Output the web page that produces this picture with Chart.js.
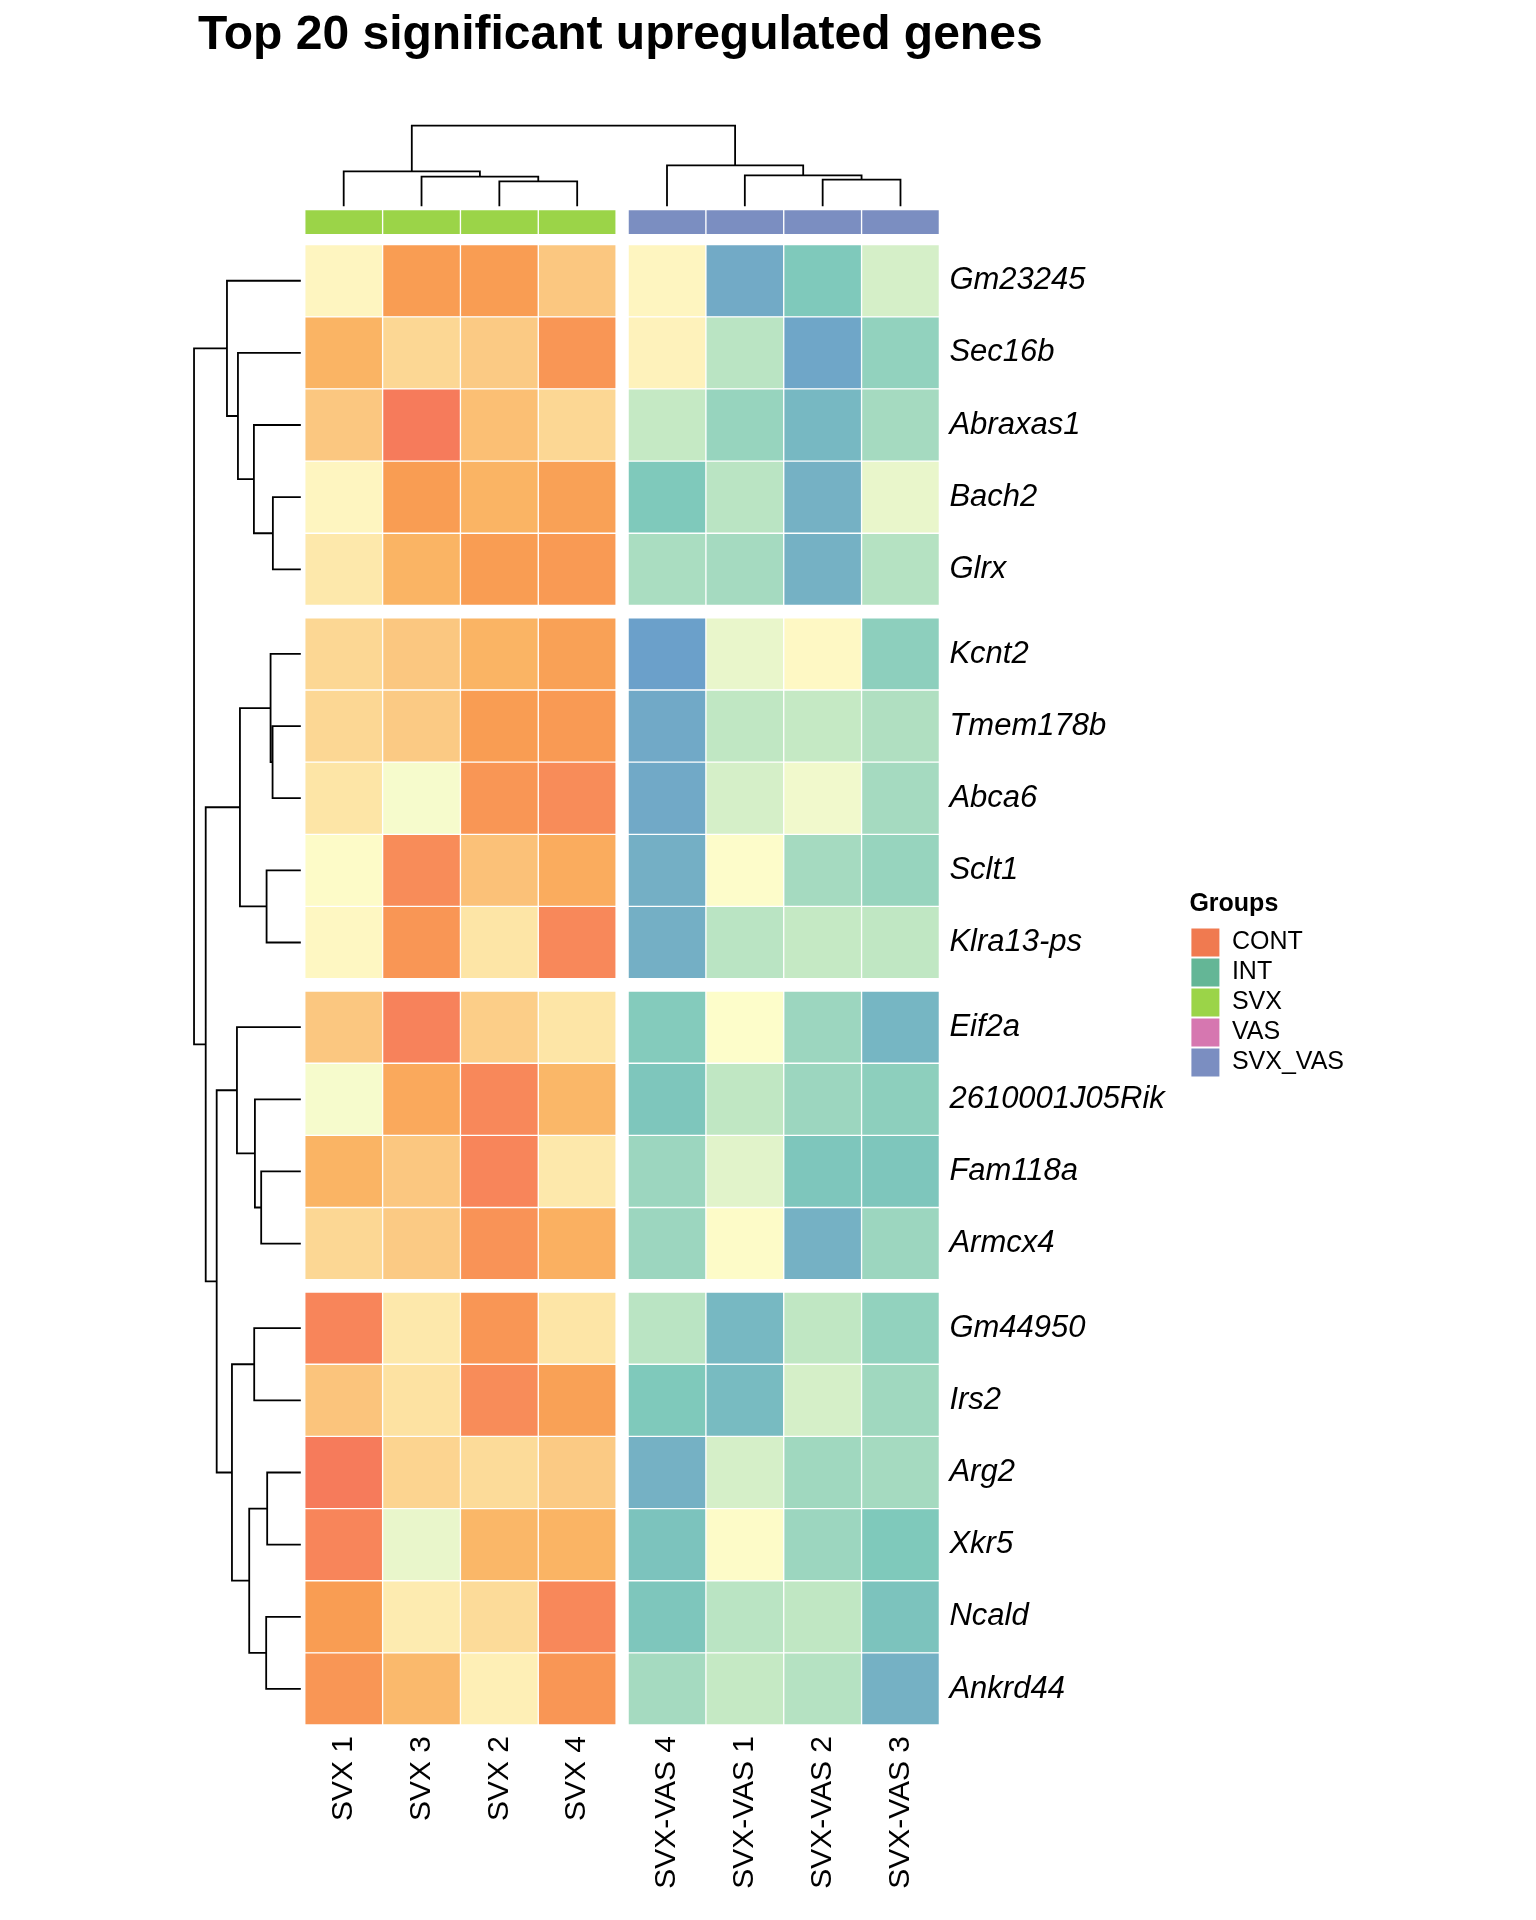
<!DOCTYPE html>
<html>
<head>
<meta charset="utf-8">
<title>Top 20 significant upregulated genes</title>
<script src="https://cdn.jsdelivr.net/npm/chart.js@4.4.1/dist/chart.umd.min.js"></script>
<style>
  html, body { margin: 0; padding: 0; background: #ffffff; }
  #wrap { width: 1536px; height: 1920px; }
</style>
</head>
<body>
<div id="wrap"><canvas id="heatmap"></canvas></div>
<script>
// Genes (rows) and samples (columns), in clustered display order
const genes = ['Gm23245', 'Sec16b', 'Abraxas1', 'Bach2', 'Glrx',
    'Kcnt2', 'Tmem178b', 'Abca6', 'Sclt1', 'Klra13-ps',
    'Eif2a', '2610001J05Rik', 'Fam118a', 'Armcx4',
    'Gm44950', 'Irs2', 'Arg2', 'Xkr5', 'Ncald', 'Ankrd44'];
const samples = ['SVX 1', 'SVX 3', 'SVX 2', 'SVX 4', 'SVX-VAS 4', 'SVX-VAS 1', 'SVX-VAS 2', 'SVX-VAS 3'];
const sampleGroups = ['SVX', 'SVX', 'SVX', 'SVX', 'SVX_VAS', 'SVX_VAS', 'SVX_VAS', 'SVX_VAS'];

// Row-scaled expression (z-score), one array per sample, gene order as above
const svx1 = [0.15, 1.2, 0.85, 0.15, 0.35, 0.6, 0.6, 0.4, 0.05, 0.12, 0.85, -0.03, 1.2, 0.6, 1.85, 0.9, 2.0, 1.85, 1.5, 1.6];
const svx3 = [1.5, 0.6, 2.0, 1.5, 1.2, 0.85, 0.8, -0.03, 1.75, 1.6, 1.9, 1.35, 0.85, 0.8, 0.35, 0.45, 0.65, -0.08, 0.3, 1.1];
const svx2 = [1.5, 0.8, 1.0, 1.2, 1.5, 1.2, 1.5, 1.6, 0.95, 0.4, 0.75, 1.8, 1.85, 1.65, 1.6, 1.75, 0.55, 1.15, 0.55, 0.25];
const svx4 = [0.85, 1.6, 0.6, 1.45, 1.55, 1.45, 1.55, 1.75, 1.3, 1.8, 0.4, 1.15, 0.35, 1.25, 0.4, 1.45, 0.8, 1.2, 1.8, 1.6];
const svxVas4 = [0.15, 0.2, -0.3, -1.0, -0.55, -1.95, -1.65, -1.65, -1.5, -1.5, -0.95, -1.05, -0.7, -0.7, -0.4, -1.0, -1.45, -1.1, -1.05, -0.6];
const svxVas1 = [-1.6, -0.4, -0.75, -0.4, -0.6, -0.08, -0.35, -0.2, 0.03, -0.4, 0.02, -0.35, -0.12, 0.05, -1.3, -1.25, -0.2, 0.05, -0.4, -0.3];
const svxVas2 = [-1.0, -1.75, -1.3, -1.45, -1.45, 0.1, -0.3, -0.05, -0.6, -0.3, -0.7, -0.7, -1.05, -1.45, -0.35, -0.2, -0.65, -0.7, -0.35, -0.45];
const svxVas3 = [-0.2, -0.8, -0.6, -0.08, -0.45, -0.85, -0.5, -0.6, -0.75, -0.35, -1.35, -0.85, -1.05, -0.7, -0.8, -0.65, -0.6, -1.0, -1.1, -1.45];
const columns = [svx1, svx3, svx2, svx4, svxVas4, svxVas1, svxVas2, svxVas3];

// Cluster cuts (gap after these row / column counts)
const rowBreaks = [5, 10, 14];
const colBreaks = [4];

// Dendrograms, hclust style: negative = leaf (display position), positive = earlier merge
const rowMerge = [[-4, -5], [-3, 1], [-2, 2], [-1, 3],
    [-7, -8], [-6, 5], [-9, -10], [6, 7],
    [-13, -14], [-12, 9], [-11, 10],
    [-15, -16], [-17, -18], [-19, -20], [13, 14], [12, 15],
    [11, 16], [8, 17], [4, 18]];
const rowHeight = [2.80, 4.70, 6.30, 7.40, 2.83, 3.03, 3.43, 6.10, 3.97, 4.60, 6.40,
    4.67, 3.37, 3.47, 5.17, 6.90, 8.43, 9.53, 10.70];
const colMerge = [[-3, -4], [-2, 1], [-1, 2], [-7, -8], [-6, 4], [-5, 5], [3, 6]];
const colHeight = [2.50, 2.97, 3.50, 2.67, 3.10, 4.10, 8.07];

// Annotation legend
const groupNames = ['CONT', 'INT', 'SVX', 'VAS', 'SVX_VAS'];
const groupColors = ['#f07a50', '#64b696', '#9bd448', '#d677b0', '#7b8ec1'];

// Colour ramp of the heatmap
const rampStops = [-2.0, -1.6, -1.3, -1.0, -0.6, -0.3, -0.1, 0.0, 0.15, 0.4, 0.6, 0.9, 1.2, 1.5, 1.8, 2.0];
const rampColors = ['#6a9ecb', '#72aac6', '#77b8c2', '#7fc9bb', '#a5dac0', '#c5e9c4', '#e4f4cb', '#fdfecc',
    '#fef5c0', '#fde5a6', '#fcd794', '#fbc47c', '#fab464', '#f99d53', '#f8885a', '#f67b5b'];

// Layout in cell units
const COL_GAP = 0.154;
const ROW_GAP = 0.173;
const X_MIN = -1.372, X_MAX = 8 + COL_GAP;
const Y_MIN = -1.872, Y_MAX = 20 + 3 * ROW_GAP;
const ANN_TOP = -0.485, ANN_BOTTOM = -0.139;
const COL_TREE_BASE = -0.531, COL_TREE_DEPTH = 1.119;
const ROW_TREE_BASE = -0.051, ROW_TREE_DEPTH = 1.372;

const FONT = '"Liberation Sans", Arial, Helvetica, sans-serif';

function colCenter(c) {
    return c + 0.5 + COL_GAP * colBreaks.filter(b => c >= b).length;
}

function rowTop(r) {
    return r + ROW_GAP * rowBreaks.filter(b => r >= b).length;
}

function hexToRgb(h) {
    const n = parseInt(h.slice(1), 16);
    return [(n >> 16) & 255, (n >> 8) & 255, n & 255];
}

function heatColor(v) {
    if (v <= rampStops[0]) return rampColors[0];
    for (let i = 1; i < rampStops.length; i++) {
        if (v <= rampStops[i]) {
            const t = (v - rampStops[i - 1]) / (rampStops[i] - rampStops[i - 1]);
            const a = hexToRgb(rampColors[i - 1]), b = hexToRgb(rampColors[i]);
            const m = a.map((x, k) => Math.round(x + (b[k] - x) * t));
            return `rgb(${m[0]}, ${m[1]}, ${m[2]})`;
        }
    }
    return rampColors[rampColors.length - 1];
}

// Walks the merge table and returns the elbow segments (null = pen up)
function dendroSegments(merges, heights, leafPos) {
    const pos = [], hgt = [], segs = [];
    const node = k => k < 0 ? {p: leafPos[-k - 1], h: 0} : {p: pos[k - 1], h: hgt[k - 1]};
    merges.forEach(([a, b], i) => {
        const A = node(a), B = node(b), h = heights[i];
        segs.push({p: A.p, h: A.h}, {p: A.p, h: h}, {p: B.p, h: h}, {p: B.p, h: B.h}, null);
        pos.push((A.p + B.p) / 2);
        hgt.push(h);
    });
    return segs;
}

const rowCenters = genes.map((g, r) => rowTop(r) + 0.5);
const colCenters = samples.map((s, c) => colCenter(c));

const cellData = [];
columns.forEach((col, c) => {
    col.forEach((v, r) => {
        cellData.push({x: colCenters[c], y: [rowTop(r), rowTop(r) + 1], v: v});
    });
});

const annotationData = sampleGroups.map((g, c) => ({x: colCenters[c], y: [ANN_TOP, ANN_BOTTOM], g: g}));

const rowMaxH = Math.max(...rowHeight);
const rowTree = dendroSegments(rowMerge, rowHeight, rowCenters).map(s =>
    s ? {x: ROW_TREE_BASE - s.h / rowMaxH * ROW_TREE_DEPTH, y: s.p} : {x: null, y: null});

const colMaxH = Math.max(...colHeight);
const colTree = dendroSegments(colMerge, colHeight, colCenters).map(s =>
    s ? {x: s.p, y: COL_TREE_BASE - s.h / colMaxH * COL_TREE_DEPTH} : {x: null, y: null});

function treeDataset(label, data) {
    return {
        type: 'scatter',
        label: label,
        data: data,
        showLine: true,
        spanGaps: false,
        borderColor: '#000000',
        borderWidth: 1.8,
        pointRadius: 0,
        pointHoverRadius: 0,
        clip: false
    };
}

function initHeatmap() {
    const ctx = document.getElementById('heatmap').getContext('2d');
    Chart.defaults.font.family = FONT;
    Chart.defaults.color = '#000000';

    new Chart(ctx, {
        type: 'bar',
        data: {
            datasets: [
                {
                    label: 'expression',
                    data: cellData,
                    backgroundColor: c => c.raw ? heatColor(c.raw.v) : '#ffffff',
                    borderColor: '#ffffff',
                    borderWidth: 1,
                    borderSkipped: false,
                    grouped: false,
                    barPercentage: 1,
                    categoryPercentage: 1
                },
                {
                    label: 'Groups',
                    data: annotationData,
                    backgroundColor: c => c.raw ? groupColors[groupNames.indexOf(c.raw.g)] : '#ffffff',
                    borderColor: '#ffffff',
                    borderWidth: 1,
                    borderSkipped: false,
                    grouped: false,
                    barPercentage: 1,
                    categoryPercentage: 1
                },
                treeDataset('row tree', rowTree),
                treeDataset('column tree', colTree)
            ]
        },
        options: {
            responsive: true,
            maintainAspectRatio: false,
            animation: false,
            events: [],
            layout: {
                padding: {left: 198, right: 182, top: 0, bottom: 0}
            },
            scales: {
                x: {
                    type: 'linear',
                    min: X_MIN,
                    max: X_MAX,
                    offset: false,
                    position: 'bottom',
                    grid: {display: false, drawTicks: false, offset: false},
                    border: {display: false},
                    afterBuildTicks: axis => { axis.ticks = colCenters.map(v => ({value: v})); },
                    afterFit: axis => { axis.height = 195; },
                    ticks: {
                        autoSkip: false,
                        minRotation: 90,
                        maxRotation: 90,
                        padding: 11,
                        color: '#000000',
                        font: {size: 30},
                        callback: (v, i) => samples[i]
                    }
                },
                y: {
                    type: 'linear',
                    min: Y_MIN,
                    max: Y_MAX,
                    offset: false,
                    reverse: true,
                    position: 'right',
                    grid: {display: false, drawTicks: false},
                    border: {display: false},
                    afterBuildTicks: axis => { axis.ticks = rowCenters.map(v => ({value: v})); },
                    afterFit: axis => { axis.width = 250; },
                    ticks: {
                        autoSkip: false,
                        padding: 10,
                        color: '#000000',
                        font: {size: 31, style: 'italic'},
                        callback: (v, i) => genes[i]
                    }
                }
            },
            plugins: {
                title: {
                    display: true,
                    text: 'Top 20 significant upregulated genes',
                    align: 'start',
                    fullSize: true,
                    color: '#000000',
                    font: {size: 48, weight: 'bold'},
                    padding: {top: 7, bottom: 45}
                },
                legend: {
                    display: true,
                    position: 'right',
                    align: 'center',
                    onClick: null,
                    title: {
                        display: true,
                        text: 'Groups',
                        position: 'start',
                        color: '#000000',
                        font: {size: 25, weight: 'bold'},
                        padding: {top: 50, bottom: 5}
                    },
                    labels: {
                        boxWidth: 28,
                        boxHeight: 28,
                        padding: 2,
                        color: '#000000',
                        font: {size: 25},
                        generateLabels: () => groupNames.map((g, i) => ({
                            text: g,
                            fillStyle: groupColors[i],
                            strokeStyle: groupColors[i],
                            lineWidth: 0,
                            hidden: false
                        }))
                    }
                },
                tooltip: {enabled: false}
            }
        }
    });
}

document.addEventListener('DOMContentLoaded', initHeatmap);
</script>
</body>
</html>
